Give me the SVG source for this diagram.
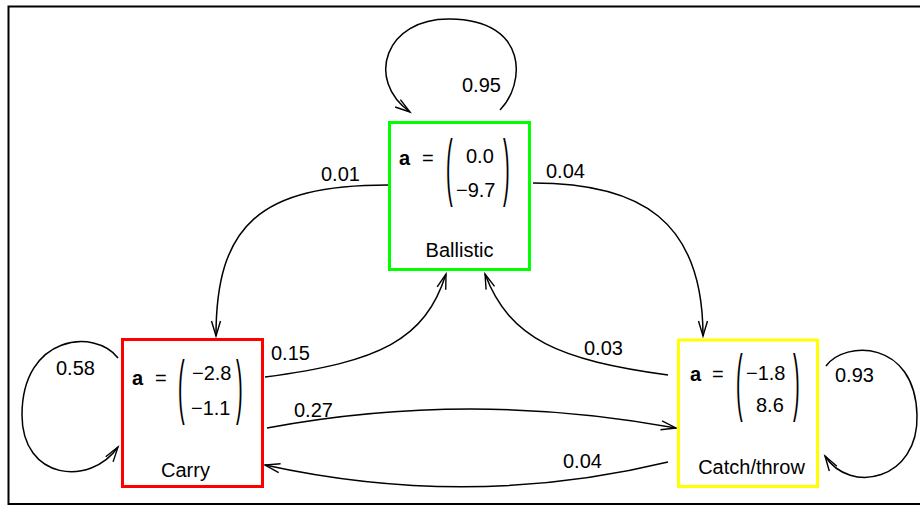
<svg xmlns="http://www.w3.org/2000/svg" width="920" height="506" viewBox="0 0 920 506">
<defs>
<marker id="arr" markerUnits="userSpaceOnUse" markerWidth="18" markerHeight="12" refX="15" refY="4.5" orient="auto" overflow="visible">
<path d="M0,0 L15,4.5 L0,9" fill="none" stroke="#000" stroke-width="1.4"/>
</marker>
<style>
text{font-family:"Liberation Sans",Arial,Helvetica,sans-serif;font-size:20px;fill:#000}
.b{font-weight:bold}
.node{fill:#fff;stroke-width:3}
.edge{fill:none;stroke:#000;stroke-width:1.5;marker-end:url(#arr)}
</style>
</defs>
<rect x="0" y="0" width="920" height="506" fill="#fff"/>
<rect x="8.5" y="6.5" width="930" height="497.5" fill="none" stroke="#000" stroke-width="2"/>
<g id="connectors">
<path class="edge" d="M500,110 C525,85 530,20 450,19 C385,18 365,80 410,112"/>
<path class="edge" d="M388,185 C260,185 216,225 216,336"/>
<path class="edge" d="M533,183 C640,183 703,220 703,336"/>
<path class="edge" d="M265,377 C380,362 425,340 446,274"/>
<path class="edge" d="M668,375 C560,360 510,340 485,274"/>
<path class="edge" d="M267,428 Q470,390 676,428"/>
<path class="edge" d="M668,462 Q470,510 265,465"/>
<path class="edge" d="M118,358 C95,328 22,335 22,415 C22,480 90,487 118,447"/>
<path class="edge" d="M826,366 C845,340 915,340 917,415 C919,480 850,495 825,456"/>
<text x="462" y="92">0.95</text>
<text x="321" y="181">0.01</text>
<text x="546" y="178">0.04</text>
<text x="271" y="360">0.15</text>
<text x="584" y="355">0.03</text>
<text x="294" y="417">0.27</text>
<text x="563" y="468">0.04</text>
<text x="56" y="375">0.58</text>
<text x="835" y="382">0.93</text>
</g>
<g id="ballistic">
<rect class="node" x="389.5" y="122.5" width="140" height="147" stroke="#00ff00"/>
<text class="b" x="399" y="165">a</text>
<text x="422" y="165">=</text>
<text transform="translate(446,191.6) scale(1,3.67)">(</text>
<text transform="translate(503,191.6) scale(1,3.67)">)</text>
<text x="466" y="163">0.0</text>
<text x="456" y="197">−9.7</text>
<text x="459.5" y="257" text-anchor="middle">Ballistic</text>
</g>
<g id="carry">
<rect class="node" x="122.5" y="339.5" width="140" height="147" stroke="#ff0000"/>
<text class="b" x="132" y="385">a</text>
<text x="155" y="385">=</text>
<text transform="translate(178,410) scale(1,3.56)">(</text>
<text transform="translate(236,410) scale(1,3.56)">)</text>
<text x="192" y="380">−2.8</text>
<text x="191" y="415">−1.1</text>
<text x="185.5" y="477" text-anchor="middle">Carry</text>
</g>
<g id="catch">
<rect class="node" x="678.5" y="340" width="139" height="146.5" stroke="#ffff00"/>
<text class="b" x="690" y="381">a</text>
<text x="712" y="381">=</text>
<text transform="translate(736,406.6) scale(1,3.67)">(</text>
<text transform="translate(793,406.6) scale(1,3.67)">)</text>
<text x="746" y="380">−1.8</text>
<text x="756" y="412">8.6</text>
<text x="751.5" y="474" text-anchor="middle">Catch/throw</text>
</g>
</svg>
